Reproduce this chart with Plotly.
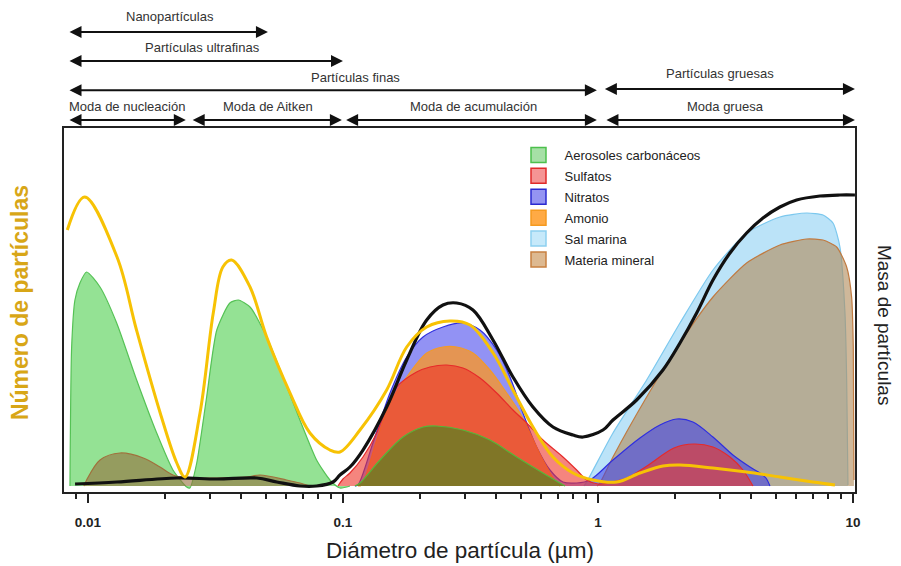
import numpy as np
import plotly.graph_objects as go

# ---------------- data (diameter in µm, heights in arbitrary units) ----------------
yel_d = [0.0083, 0.0097, 0.013, 0.0155, 0.0192, 0.0223, 0.024, 0.0275, 0.031, 0.0338, 0.0366,
         0.0432, 0.0502, 0.062, 0.0742, 0.0889, 0.0973, 0.1166, 0.1484, 0.1778, 0.213, 0.263,
         0.315, 0.388, 0.464, 0.556, 0.666, 0.798, 0.956, 1.184, 1.461, 1.798, 2.097, 2.825,
         3.828, 5.172, 6.968, 8.5]
yel_y = [256, 289, 229, 156, 73, 23, 9, 73, 173, 219, 226, 199, 149, 93, 53, 36, 34, 56, 96,
         139, 159, 165, 161, 133, 96, 59, 29, 13, 6, 4, 13, 20, 21, 18, 14, 9, 4, 1]

blk_d = [0.0089, 0.013, 0.0223, 0.032, 0.0459, 0.055, 0.0678, 0.0788, 0.0914, 0.0973, 0.1065,
         0.1198, 0.1484, 0.1778, 0.213, 0.2467, 0.2792, 0.3235, 0.3876, 0.4642, 0.5559, 0.6661,
         0.798, 0.8734, 1.046, 1.145, 1.418, 1.798, 2.097, 2.438, 2.825, 3.293, 3.828, 4.437,
         5.172, 6.012, 7.423, 8.89, 10.18]
blk_y = [2, 4, 8, 7, 8, 4, 0, 0, 4, 11, 19, 36, 79, 126, 166, 181, 183, 176, 146, 109, 79, 59,
         51, 49, 56, 66, 86, 116, 143, 173, 206, 233, 253, 268, 279, 286, 290, 291, 291]

carb_d = [0.0085, 0.00863, 0.00889, 0.0093, 0.00988, 0.01115, 0.01296, 0.01552, 0.0186, 0.02154,
          0.02438, 0.0251, 0.0267, 0.0292, 0.032, 0.036, 0.0389, 0.0432, 0.0502, 0.0582, 0.0678,
          0.0788, 0.0889, 0.0973, 0.1065]
carb_y = [0, 139, 186, 203, 214, 199, 163, 106, 53, 16, -1, -2, 23, 89, 156, 183, 186, 179, 149,
          109, 66, 26, 6, -2, 0]
carb_acc_d = [0.1114, 0.1166, 0.1397, 0.1719, 0.206, 0.2331, 0.2955, 0.3772, 0.48, 0.6085,
              0.7096, 0.7424]
carb_acc_y = [0, 3, 26, 49, 59, 60, 56, 46, 29, 13, 3, 0]

sulf_d = [0.0956, 0.1, 0.1065, 0.1198, 0.1356, 0.1484, 0.1624, 0.1945, 0.2194, 0.2551, 0.2955,
          0.3446, 0.4007, 0.4642, 0.5254, 0.6085, 0.729, 0.8251, 0.903, 1.0, 1.135, 1.299, 1.556,
          1.986, 2.379, 2.825, 3.293, 3.704, 4.053]
sulf_y = [0, 7, 13, 29, 53, 79, 99, 114, 119, 121, 118, 108, 93, 76, 63, 46, 29, 16, 6, 2, 4, 8,
          20, 38, 42, 39, 29, 16, 0]

nitr_d = [0.1114, 0.1145, 0.1311, 0.1529, 0.1778, 0.206, 0.2467, 0.2955, 0.3446, 0.4007, 0.4518,
          0.508, 0.5748, 0.6483, 0.729, 0.8251, 0.9303, 1.145, 1.461, 1.75, 2.035, 2.357, 2.825,
          3.383, 3.946, 4.318, 4.558, 4.726]
nitr_y = [0, 1, 43, 93, 129, 149, 159, 163, 156, 136, 109, 73, 39, 16, 4, 3, 6, 26, 48, 61, 67,
          64, 49, 31, 19, 13, 8, 0]

amon_d = [0.1145, 0.1184, 0.1356, 0.1529, 0.1778, 0.213, 0.2467, 0.2792, 0.3235, 0.3772, 0.4385,
          0.4944, 0.5412, 0.6085, 0.6887, 0.7096]
amon_y = [0, 1, 46, 83, 109, 133, 139, 139, 133, 116, 93, 73, 53, 26, 3, 0]

salt_d = [0.8812, 0.903, 1.145, 1.552, 2.097, 2.825, 3.828, 5.172, 6.58, 7.627, 8.35, 8.89, 9.303,
          9.447, 9.559]
salt_y = [0, 4, 53, 106, 163, 216, 253, 269, 273, 271, 263, 239, 173, 106, 1]

min_nuc_d = [0.00964, 0.00988, 0.01115, 0.01335, 0.01648, 0.01916, 0.02154, 0.02438, 0.032,
             0.0419, 0.0473, 0.0601, 0.0678, 0.0742]
min_nuc_y = [0, 6, 26, 33, 28, 19, 11, 8, 8, 9, 11, 6, 3, 0]
min_crs_d = [0.991, 1.018, 1.145, 1.552, 2.097, 2.825, 3.828, 5.172, 6.58, 7.627, 8.63, 9.447,
             9.88, 10.03, 10.09]
min_crs_y = [0, 3, 29, 89, 143, 189, 223, 241, 247, 246, 239, 219, 189, 139, 6]

legend_names = ["Aerosoles carbonáceos", "Sulfatos", "Nitratos", "Amonio", "Sal marina",
                "Materia mineral"]
legend_fill = ["#A6E0A6", "#F59494", "#9494F2", "#FFAA45", "#C6E9FA", "#DDB991"]
legend_line = ["#4CC04C", "#E02A2A", "#2A2AD0", "#F59A20", "#8DD0F0", "#C88040"]

tick_vals = [0.01, 0.1, 1, 10]
tick_text = ["0.01", "0.1", "1", "10"]
minor_vals = [0.008, 0.009, 0.02, 0.03, 0.04, 0.05, 0.06, 0.07, 0.08, 0.09,
              0.2, 0.3, 0.4, 0.5, 0.6, 0.7, 0.8, 0.9, 2, 3, 4, 5, 6, 7, 8, 9]

size_labels = ["Nanopartículas", "Partículas ultrafinas", "Partículas finas",
               "Partículas gruesas", "Moda de nucleación", "Moda de Aitken",
               "Moda de acumulación", "Moda gruesa"]
arrow_start = [0.00835, 0.00835, 0.00835, 1.05, 0.00835, 0.0254, 0.1015, 1.065]
arrow_end = [0.0508, 0.1, 0.99, 10.18, 0.0242, 0.099, 0.99, 10.18]
arrow_ypos = [1.264, 1.184, 1.104, 1.107, 1.022, 1.022, 1.022, 1.022]
label_xpos = [0.134, 0.1757, 0.3679, 0.8293, 0.0796, 0.2579, 0.5183, 0.8357]
label_ypos = [1.305, 1.2198, 1.1374, 1.1484, 1.0577, 1.0577, 1.0604, 1.0604]

# ---------------- figure ----------------
fig = go.Figure()


def area(d, y, fill, line, smooth=0.9):
    fig.add_trace(go.Scatter(x=d, y=y, mode="lines", fill="tozeroy", fillcolor=fill,
                             line=dict(color=line, width=1.2, shape="spline", smoothing=smooth),
                             showlegend=False, hoverinfo="skip"))


area(salt_d, salt_y, "rgba(170,220,246,0.8)", "#7CC8EE", 0.6)
area(min_crs_d, min_crs_y, "rgba(178,140,92,0.62)", "#C07A40", 0.6)
area(nitr_d, nitr_y, "rgba(60,60,236,0.56)", "#2E2EE0")
area(amon_d, amon_y, "rgba(255,150,30,0.75)", "#F29A2A")
area(sulf_d, sulf_y, "rgba(238,52,40,0.6)", "#E62A2A")
area(carb_d, carb_y, "rgba(76,206,76,0.6)", "#55C255", 0.6)
area(carb_acc_d, carb_acc_y, "rgba(118,120,38,0.92)", "#55B83A")
area(min_nuc_d, min_nuc_y, "rgba(150,110,60,0.6)", "#A0703C")

fig.add_trace(go.Scatter(x=blk_d, y=blk_y, mode="lines",
                         line=dict(color="#111111", width=3.2, shape="spline", smoothing=1.0),
                         showlegend=False, hoverinfo="skip"))
fig.add_trace(go.Scatter(x=yel_d, y=yel_y, mode="lines",
                         line=dict(color="#F7C204", width=3, shape="spline", smoothing=1.0),
                         showlegend=False, hoverinfo="skip"))

for i, (nm, fc, lc) in enumerate(zip(legend_names, legend_fill, legend_line)):
    fig.add_trace(go.Scatter(x=[None], y=[None], mode="markers", name=nm, legendgroup=nm,
                             legendrank=i + 1,
                             marker=dict(symbol="square", size=15, color=fc,
                                         line=dict(color=lc, width=1.5))))

for s, e, yy in zip(arrow_start, arrow_end, arrow_ypos):
    fig.add_annotation(x=np.log10(e), y=yy, xref="x", yref="paper",
                       ax=np.log10(s), ay=0, axref="x", ayref="pixel",
                       text="", showarrow=True, arrowside="end+start",
                       arrowhead=2, startarrowhead=2, arrowsize=1.2, startarrowsize=1.2,
                       arrowwidth=2, arrowcolor="#111111", standoff=0, startstandoff=0)

for t, xx, yy in zip(size_labels, label_xpos, label_ypos):
    fig.add_annotation(x=xx, y=yy, xref="paper", yref="paper", text=t, showarrow=False,
                       xanchor="center", yanchor="middle",
                       font=dict(family="Liberation Sans, Arial", size=13, color="#333333"))

fig.add_annotation(x=-0.0556, y=0.519, xref="paper", yref="paper", text="Número de partículas",
                   textangle=-90, showarrow=False, xanchor="center", yanchor="middle",
                   font=dict(family="Liberation Sans Narrow, Liberation Sans, Arial", size=23,
                             color="#D8A617", weight="bold"))
fig.add_annotation(x=1.0367, y=0.459, xref="paper", yref="paper", text="Masa de partículas",
                   textangle=90, showarrow=False, xanchor="center", yanchor="middle",
                   font=dict(family="Liberation Sans, Arial", size=19, color="#222222"))
fig.add_annotation(x=0.5006, y=-0.162, xref="paper", yref="paper",
                   text="Diámetro de partícula (µm)", showarrow=False,
                   xanchor="center", yanchor="middle",
                   font=dict(family="Liberation Sans, Arial", size=22.5, color="#222222"))

fig.update_layout(
    width=901, height=566,
    margin=dict(l=64, r=46, t=128, b=74),
    paper_bgcolor="white", plot_bgcolor="white",
    showlegend=True,
    legend=dict(x=0.567, y=0.967, xanchor="left", yanchor="top", traceorder="grouped",
                tracegroupgap=1, itemwidth=42, bgcolor="rgba(0,0,0,0)",
                font=dict(family="Liberation Sans, Arial", size=13, color="#222222")),
    xaxis=dict(type="log", range=[-2.094, 1.008], tickvals=tick_vals, ticktext=tick_text,
               ticks="outside", ticklen=9, tickwidth=2, tickcolor="#222222",
               ticklabelstandoff=8,
               tickfont=dict(family="Liberation Sans, Arial", size=13.5, color="#222222",
                             weight="bold"),
               minor=dict(tickvals=minor_vals, ticks="outside", ticklen=5, tickwidth=1.5,
                          tickcolor="#222222", showgrid=False),
               showline=True, linewidth=2, linecolor="#222222", mirror=True,
               showgrid=False, zeroline=False),
    yaxis=dict(range=[-6, 358], showticklabels=False, ticks="", showline=True, linewidth=2,
               linecolor="#222222", mirror=True, showgrid=False, zeroline=False),
)

fig.write_html("out.html", config={"displayModeBar": False},
               post_script="document.body.style.margin='0px';document.body.style.padding='0px';")
